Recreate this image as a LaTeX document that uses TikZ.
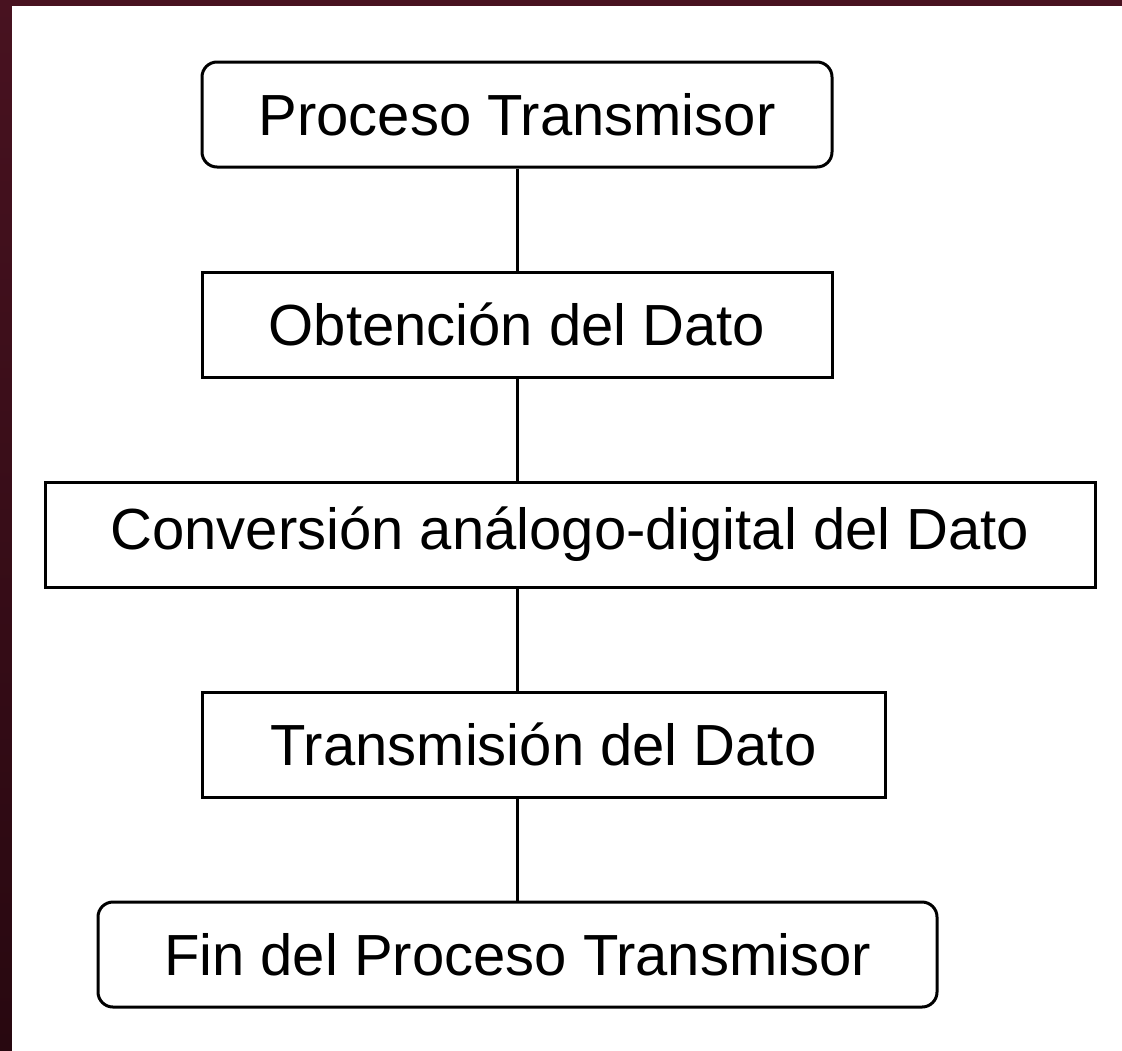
\documentclass[tikz,border=0pt]{standalone}
\usepackage{fontspec}
\setmainfont{Liberation Sans}
\usetikzlibrary{positioning}
\definecolor{marco}{RGB}{72,18,32}
\definecolor{marcobajo}{RGB}{40,8,16}
\tikzset{
  paso/.style={draw, line width=1.5pt, minimum height=52.5pt, inner sep=0pt,
    font=\fontsize{29}{32}\selectfont},
  pasoredondo/.style={paso, rounded corners=7.5pt},
  enlace/.style={line width=1.5pt}
}
\begin{document}
\begin{tikzpicture}[x=0.5pt, y=-0.5pt]
  % fondo y marco
  \useasboundingbox (0,0) rectangle (1122,1050);
  \shade[top color=marco, bottom color=marcobajo] (0,0) rectangle (1122,1050);
  \fill[white] (12,6) rectangle (1140,1070);

  \node[pasoredondo, minimum width=315pt] (proc) at (517,114.5) {Proceso Transmisor};
  \node[paso, minimum width=315pt] (obt) at (517,324.5) {Obtención del Dato};
  \node[paso, minimum width=525pt] (conv) at (570,534.5) {Conversión análogo-digital del Dato};
  \node[paso, minimum width=341.5pt] (trans) at (543.5,744.5) {Transmisión del Dato};
  \node[pasoredondo, minimum width=419.5pt] (fin) at (517.5,954.5) {Fin del Proceso Transmisor};

  \draw[enlace] (proc.south) -- (obt.north);
  \draw[enlace] (obt.south) -- (obt.south |- conv.north);
  \draw[enlace] (obt.south |- conv.south) -- (obt.south |- trans.north);
  \draw[enlace] (obt.south |- trans.south) -- (obt.south |- fin.north);
\end{tikzpicture}
\end{document}
